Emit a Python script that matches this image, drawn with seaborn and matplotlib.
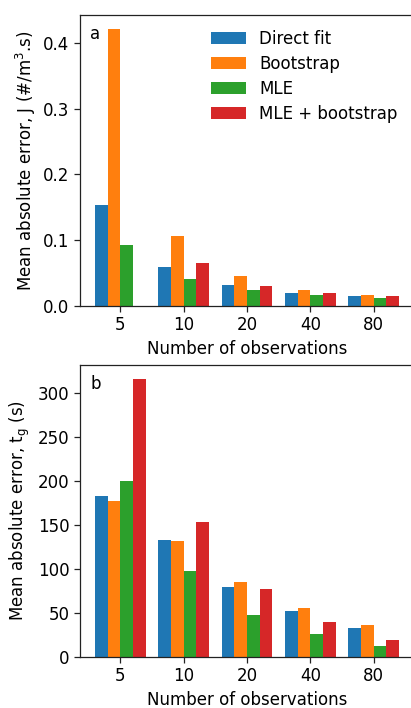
import numpy as np
import pandas as pd
import matplotlib
matplotlib.use("Agg")
import matplotlib.pyplot as plt
import seaborn as sns

# Sample sizes and estimation methods
n_obs = ["5", "10", "20", "40", "80"]
methods = ["Direct fit", "Bootstrap", "MLE", "MLE + bootstrap"]

# Mean absolute error of the nucleation rate J (#/m^3.s)
j_direct = [0.153, 0.060, 0.032, 0.020, 0.0147]
j_boot = [0.421, 0.107, 0.045, 0.024, 0.016]
j_mle = [0.093, 0.041, 0.024, 0.016, 0.0127]
j_mle_boot = [np.nan, 0.066, 0.031, 0.019, 0.0147]

# Mean absolute error of the growth time t_g (s)
tg_direct = [183.3, 133.5, 79.8, 52.5, 32.7]
tg_boot = [177.6, 132.3, 85.5, 56.3, 36.1]
tg_mle = [200.8, 97.8, 48.3, 25.9, 12.7]
tg_mle_boot = [316.4, 154.0, 77.6, 40.2, 19.9]

colors = ["#1f77b4", "#ff7f0e", "#2ca02c", "#d62728"]


def long_table(series):
    rows = []
    for method, vals in zip(methods, series):
        for n, v in zip(n_obs, vals):
            rows.append({"n": n, "method": method, "err": v})
    return pd.DataFrame(rows)


df_j = long_table([j_direct, j_boot, j_mle, j_mle_boot])
df_tg = long_table([tg_direct, tg_boot, tg_mle, tg_mle_boot])

plt.rcParams["font.family"] = ["DejaVu Sans"]
plt.rcParams["font.size"] = 12

fig = plt.figure(figsize=(4.11, 7.08), dpi=100)
ax1 = fig.add_axes([80 / 411, 1 - 306 / 708, 334 / 411, 291 / 708])
ax2 = fig.add_axes([80 / 411, 1 - 657 / 708, 334 / 411, 292 / 708])

for ax, df, ylabel, letter in [
    (ax1, df_j, r"Mean absolute error, J (#/m$^3$.s)", "a"),
    (ax2, df_tg, r"Mean absolute error, t$_\mathrm{g}$ (s)", "b"),
]:
    sns.barplot(data=df, x="n", y="err", hue="method", order=n_obs,
                hue_order=methods, palette=colors, saturation=1,
                errorbar=None, width=0.8, linewidth=0, ax=ax,
                legend=(ax is ax1))
    ax.set_xlim(-0.64, 4.64)
    ymax = np.nanmax(df["err"].values)
    ax.set_ylim(0, ymax * 1.05)
    ax.set_xlabel("Number of observations", fontsize=12)
    ax.set_ylabel(ylabel, fontsize=12)
    ax.tick_params(labelsize=12, length=4, width=0.9, color="#222222")
    for s in ax.spines.values():
        s.set_color("#222222")
        s.set_linewidth(0.9)
    ax.text(0.03, 0.965, letter, transform=ax.transAxes, ha="left", va="top",
            fontsize=12)

ax2.set_yticks([0, 50, 100, 150, 200, 250, 300])
ax1.set_yticks([0.0, 0.1, 0.2, 0.3, 0.4])

leg = ax1.legend(loc="upper right", frameon=False, fontsize=12,
                 bbox_to_anchor=(0.995, 1.0), handlelength=2.1,
                 handletextpad=0.8, labelspacing=0.42)

fig.savefig("out.png", dpi=100)
